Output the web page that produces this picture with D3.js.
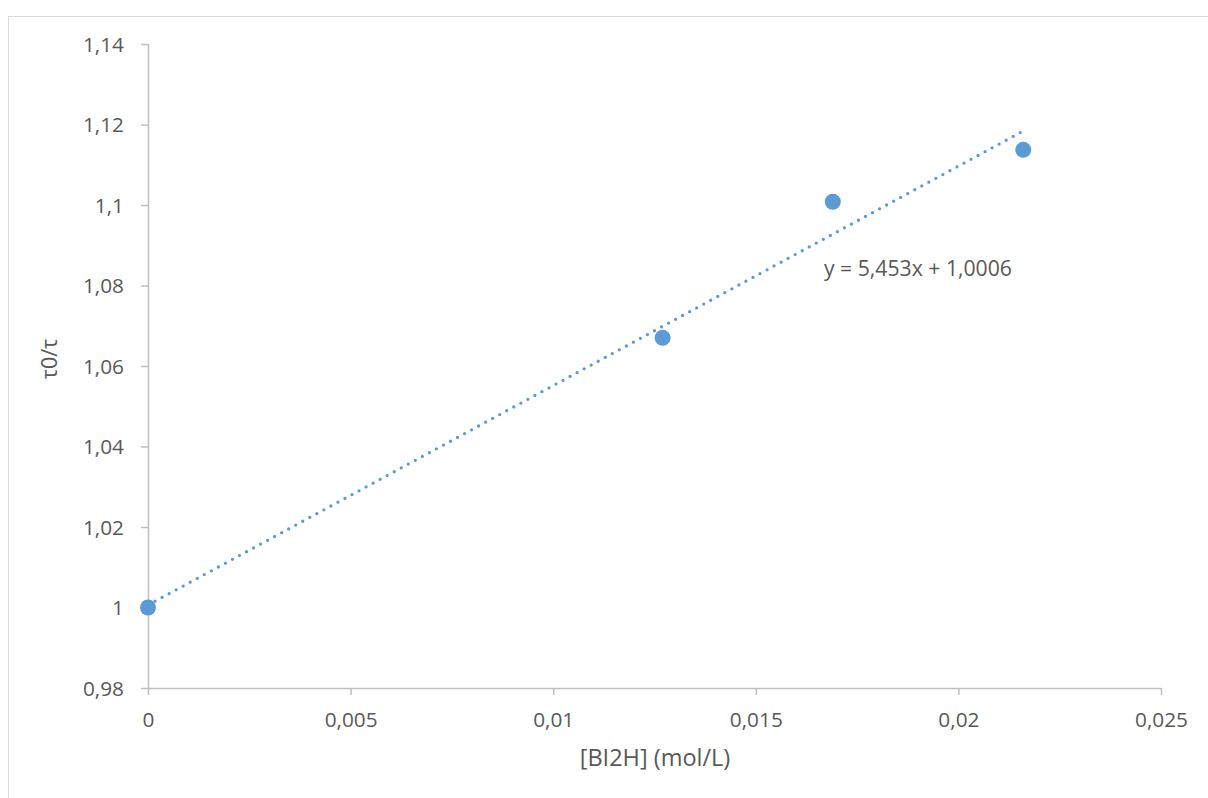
<!DOCTYPE html>
<html><head><meta charset="utf-8">
<script src="https://cdn.jsdelivr.net/npm/d3@7"></script>
<style>body{margin:0;background:#fff}svg{display:block}text{font-family:"Open Sans",sans-serif;fill:#595959}</style>
</head><body>
<script>
const xValues = [0, 0.0127, 0.0169, 0.0216];
const yValues = [1.0, 1.067, 1.1008, 1.1137];
const xTicks = [0, 0.005, 0.01, 0.015, 0.02, 0.025];
const yTicks = [0.98, 1.0, 1.02, 1.04, 1.06, 1.08, 1.1, 1.12, 1.14];
const slope = 5.453, intercept = 1.0006;
const equationLabel = "y = 5,453x + 1,0006";
const xTitle = "[BI2H] (mol/L)", yTitle = "τ0/τ";

const W = 1208, H = 798;
const svg = d3.select("body").append("svg").attr("width", W).attr("height", H);
svg.append("rect").attr("x", 8.5).attr("y", 16.5).attr("width", 1400).attr("height", 1000)
  .attr("fill", "none").attr("stroke", "#d9d9d9").attr("stroke-width", 1);

const x = d3.scaleLinear().domain([0, 0.025]).range([148, 1161]);
const y = d3.scaleLinear().domain([0.98, 1.14]).range([688, 44]);
const fmt = d => String(+d.toFixed(3)).replace(".", ",");

const xAxis = svg.append("g").attr("transform", "translate(0,688)")
  .call(d3.axisBottom(x).tickValues(xTicks).tickSize(7).tickFormat(fmt));
const yAxis = svg.append("g").attr("transform", "translate(148,0)")
  .call(d3.axisLeft(y).tickValues(yTicks).tickSize(7).tickFormat(d => fmt(+d.toFixed(2))));
[xAxis, yAxis].forEach(g => {
  g.selectAll("path, line").attr("stroke", "#bfbfbf").attr("stroke-width", 1.5);
  g.select(".domain").attr("d", g === xAxis ? "M148,0.5H1161" : "M0.5,688V44");
  g.selectAll("text").attr("font-family", "Open Sans").attr("font-size", 20.8).attr("fill", "#595959");
});
xAxis.selectAll("text").attr("y", 0).attr("dy", 0).attr("transform", "translate(0,38.5)");
yAxis.selectAll("text").attr("x", -24).attr("dy", "0.35em");

// trendline
const x0 = d3.min(xValues), x1 = d3.max(xValues);
svg.append("line")
  .attr("x1", x(x0)).attr("y1", y(slope * x0 + intercept))
  .attr("x2", x(x1)).attr("y2", y(slope * x1 + intercept))
  .attr("stroke", "#5b9bd5").attr("stroke-width", 3.3).attr("stroke-linecap", "round")
  .attr("stroke-dasharray", "0 8");

svg.selectAll("circle.pt").data(xValues).enter().append("circle").attr("class", "pt")
  .attr("cx", d => x(d)).attr("cy", (d, i) => y(yValues[i])).attr("r", 8).attr("fill", "#5b9bd5");

svg.append("text").attr("x", 824).attr("y", 276).attr("font-size", 21.2).text(equationLabel);
svg.append("text").attr("x", 655).attr("y", 766).attr("text-anchor", "middle").attr("font-size", 23.5).text(xTitle);
svg.append("text").attr("transform", "translate(57,359) rotate(-90)").attr("text-anchor", "middle")
  .attr("font-size", 21.5).text(yTitle);
</script>
</body></html>
